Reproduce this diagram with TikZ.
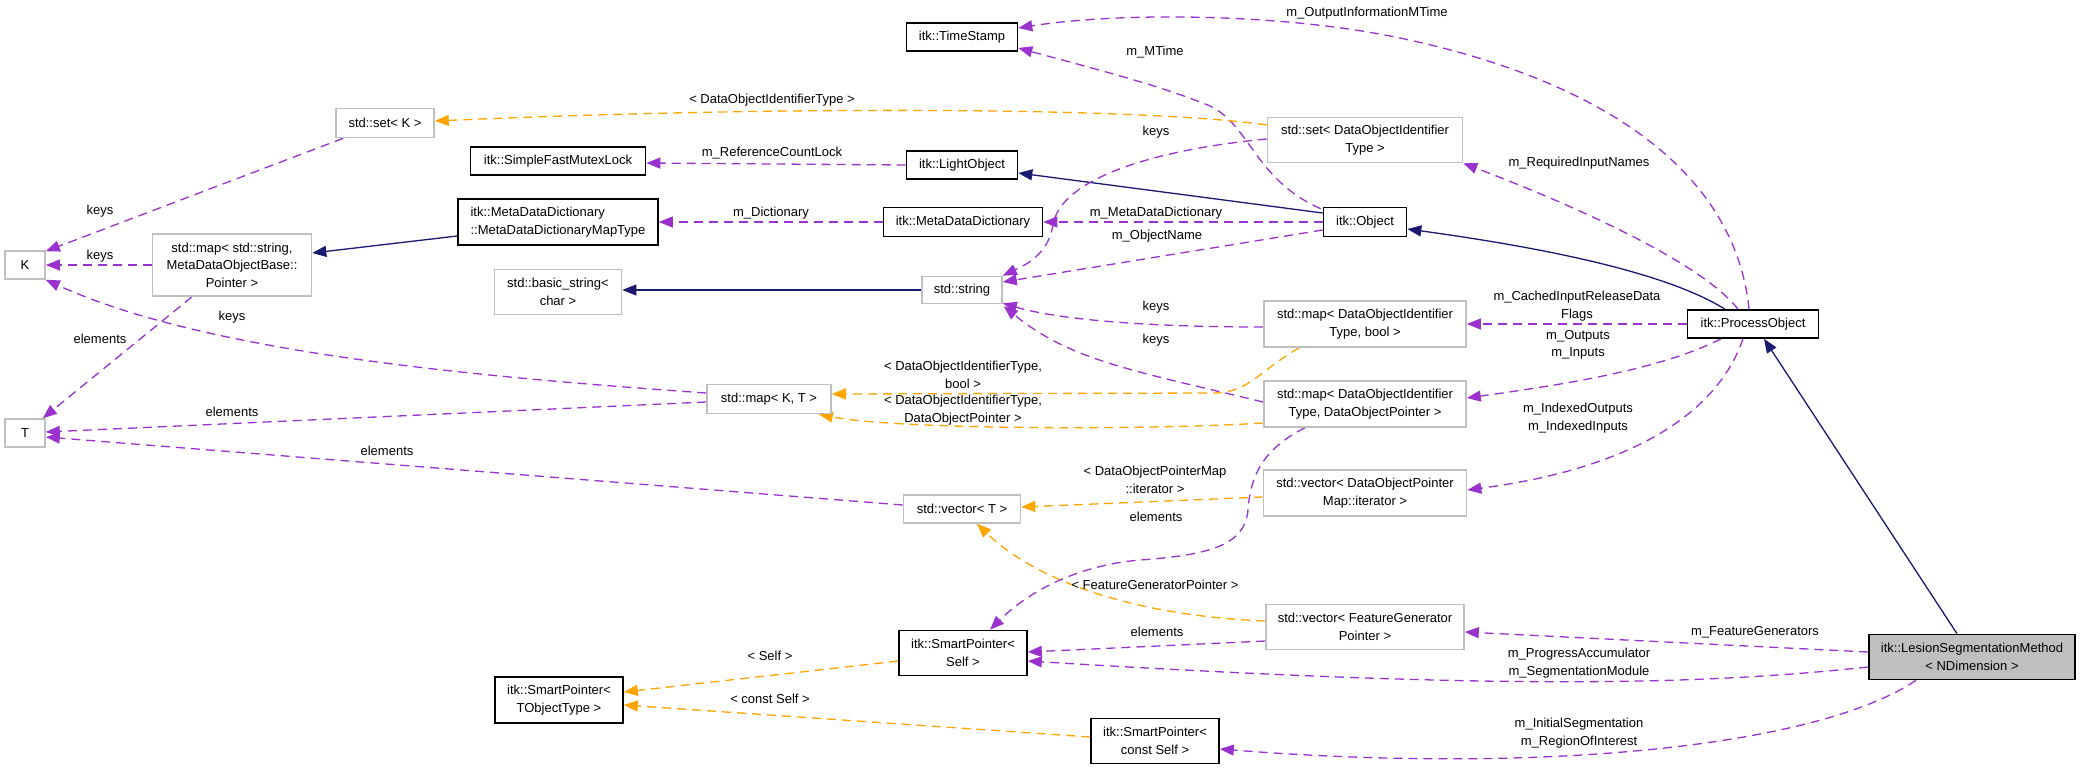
\documentclass[tikz,border=0pt]{standalone}
\usepackage{fontspec}
\setmainfont{Liberation Sans}
\usetikzlibrary{arrows.meta,calc,backgrounds}
\definecolor{purp}{HTML}{9A32CD}
\definecolor{orng}{HTML}{FFA500}
\definecolor{mblue}{HTML}{191970}
\definecolor{gbord}{HTML}{BFBFBF}
\definecolor{gfill}{HTML}{BFBFBF}
\begin{document}
\begin{tikzpicture}[x=1pt,y=-1pt,
  every node/.style={font=\fontsize{13}{17.5}\selectfont, inner sep=0pt, align=center},
  box/.style={draw=black, line width=1.6pt, fill=white, rectangle},
  gbox/.style={draw=gbord, line width=1.6pt, fill=white, rectangle},
  tip/.style={-{Triangle[length=14pt,width=11pt]}},
  mem/.style={draw=purp, line width=1.3pt, dash pattern=on 9pt off 6pt, tip},
  tpl/.style={draw=orng, line width=1.3pt, dash pattern=on 9pt off 6pt, tip},
  inh/.style={draw=mblue, line width=1.3pt, tip}
]
\useasboundingbox (0,0) rectangle (2080,769);
% nodes
\node[box, minimum width=111, minimum height=28] (TS) at (962,37) {itk::TimeStamp};
\node[gbox, minimum width=98, minimum height=29] (SK) at (385,123) {std::set< K >};
\node[gbox, minimum width=195, minimum height=45] (SD) at (1365,140) {std::set< DataObjectIdentifier\\Type >};
\node[box, minimum width=175, minimum height=28] (MX) at (558,161) {itk::SimpleFastMutexLock};
\node[box, minimum width=111, minimum height=28] (LO) at (962,165) {itk::LightObject};
\node[box, minimum width=200, minimum height=46, align=left] (MT) at (558,222) {itk::MetaDataDictionary\\::MetaDataDictionaryMapType};
\node[box, minimum width=159, minimum height=29] (MD) at (963,222) {itk::MetaDataDictionary};
\node[box, minimum width=83, minimum height=29] (OB) at (1365,222) {itk::Object};
\node[gbox, minimum width=40, minimum height=28] (K) at (25,265) {K};
\node[gbox, minimum width=159, minimum height=62] (MS) at (232,265) {std::map< std::string,\\MetaDataObjectBase::\\Pointer >};
\node[gbox, minimum width=127, minimum height=45] (BS) at (558,292) {std::basic\_string<\\char >};
\node[gbox, minimum width=80, minimum height=27] (ST) at (962,290) {std::string};
\node[gbox, minimum width=202, minimum height=46] (MB) at (1365,324) {std::map< DataObjectIdentifier\\Type, bool >};
\node[box, minimum width=131, minimum height=28] (PO) at (1753,324) {itk::ProcessObject};
\node[gbox, minimum width=40, minimum height=28] (T) at (25,433) {T};
\node[gbox, minimum width=124, minimum height=29] (KT) at (769,399) {std::map< K, T >};
\node[gbox, minimum width=202, minimum height=46] (MP) at (1365,404) {std::map< DataObjectIdentifier\\Type, DataObjectPointer >};
\node[gbox, minimum width=203, minimum height=46] (VI) at (1365,493) {std::vector< DataObjectPointer\\Map::iterator >};
\node[gbox, minimum width=117, minimum height=28] (VT) at (962,509) {std::vector< T >};
\node[box, minimum width=128, minimum height=45] (SS) at (963,653) {itk::SmartPointer<\\Self >};
\node[gbox, minimum width=198, minimum height=45] (VF) at (1365,627) {std::vector< FeatureGenerator\\Pointer >};
\node[box, fill=gfill, minimum width=206, minimum height=45] (LS) at (1972,657) {itk::LesionSegmentationMethod\\< NDimension >};
\node[box, minimum width=128, minimum height=46] (SO) at (559,700) {itk::SmartPointer<\\TObjectType >};
\node[box, minimum width=128, minimum height=45] (SC) at (1155,741) {itk::SmartPointer<\\const Self >};
% labels
\node (l1) at (1367,13) {m\_OutputInformationMTime};
\node (l2) at (1155,52) {m\_MTime};
\node (l3) at (772,100) {< DataObjectIdentifierType >};
\node (l4) at (772,153) {m\_ReferenceCountLock};
\node (l6) at (771,213) {m\_Dictionary};
\node (l7) at (1156,213) {m\_MetaDataDictionary};
\node (l9) at (1157,236) {m\_ObjectName};
\node (l10) at (1156,132) {keys};
\node (l11) at (1579,163) {m\_RequiredInputNames};
\node (l13) at (1156,307) {keys};
\node (l14) at (1577,306) {m\_CachedInputReleaseData\\Flags};
\node (l15) at (1156,340) {keys};
\node (l16) at (963,375) {< DataObjectIdentifierType,\\bool >};
\node (l17) at (963,410) {< DataObjectIdentifierType,\\DataObjectPointer >};
\node (l18) at (232,317) {keys};
\node (l19) at (232,412) {elements};
\node (l20) at (100,211) {keys};
\node (l21) at (100,256) {keys};
\node (l22) at (100,339) {elements};
\node (l23) at (387,451) {elements};
\node (l24) at (1155,480) {< DataObjectPointerMap\\::iterator >};
\node (l25) at (1155,585) {< FeatureGeneratorPointer >};
\node (l26) at (1156,517) {elements};
\node (l27) at (1157,632) {elements};
\node (l28) at (1579,663) {m\_ProgressAccumulator\\m\_SegmentationModule};
\node (l29) at (1755,632) {m\_FeatureGenerators};
\node (l30) at (1579,733) {m\_InitialSegmentation\\m\_RegionOfInterest};
\node (l32) at (1578,345) {m\_Outputs\\m\_Inputs};
\node (l33) at (1578,418) {m\_IndexedOutputs\\m\_IndexedInputs};
\node (l34) at (770,656) {< Self >};
\node (l35) at (770,699) {< const Self >};
% edges
\begin{pgfonlayer}{background}
\fill[white] (0,0) rectangle (2080,769);
\draw[mem] ($(PO.north)+(-4,0)$) .. controls (1735,170) and (1600,80) .. (1400,38) .. controls (1280,13) and (1120,12) .. ($(TS.east)+(0,-9)$);
\draw[mem] ($(OB.north west)+(-2,2)$) .. controls (1255,180) and (1250,125) .. (1210,106) .. controls (1160,85) and (1080,65) .. ($(TS.east)+(0,11)$);
\draw[tpl] ($(SD.west)+(0,-15)$) .. controls (1150,108) and (800,105) .. ($(SK.east)+(0,-2)$);
\draw[mem] (LO.west) -- ($(MX.east)+(0,2)$);
\draw[inh] ($(OB.west)+(0,-9)$) -- ($(LO.east)+(0,8)$);
\draw[mem] (MD.west) -- (MT.east);
\draw[mem] (OB.west) -- (MD.east);
\draw[inh] ($(MT.west)+(0,14)$) -- ($(MS.east)+(0,-12)$);
\draw[inh] (ST.west) -- ($(BS.east)+(0,-2)$);
\draw[mem] ($(OB.west)+(0,8)$) -- ($(ST.east)+(0,-8)$);
\draw[mem] ($(SD.west)+(0,-1)$) .. controls (1150,150) and (1060,180) .. (1053,225) .. controls (1048,255) and (1025,265) .. (ST.north east);
\draw[mem] ($(PO.north)+(-15,0)$) .. controls (1700,260) and (1560,200) .. (SD.south east);
\draw[inh] ($(PO.north)+(-28,0)$) .. controls (1670,275) and (1560,250) .. ($(OB.east)+(0,7)$);
\draw[mem] ($(MB.west)+(0,3)$) .. controls (1150,327) and (1060,320) .. ($(ST.south east)+(0,-1)$);
\draw[mem] (PO.west) -- (MB.east);
\draw[mem] ($(MP.west)+(0,-2)$) .. controls (1130,370) and (1070,360) .. ($(ST.south east)+(1,2)$);
\draw[tpl] ($(MB.south west)+(36,0)$) .. controls (1260,370) and (1250,392) .. (1215,393) -- ($(KT.east)+(0,-5)$);
\draw[tpl] ($(MP.west)+(0,19)$) .. controls (1150,430) and (900,430) .. ($(KT.south east)+(-13,0)$);
\draw[mem] ($(KT.west)+(0,-6)$) .. controls (450,375) and (200,350) .. (K.south east);
\draw[mem] ($(KT.west)+(0,3)$) -- ($(T.east)+(0,-1)$);
\draw[mem] ($(SK.south west)+(8,0)$) -- ($(K.north east)+(0,1)$);
\draw[mem] (MS.west) -- (K.east);
\draw[mem] ($(MS.south)+(-40,0)$) -- ($(T.north east)+(-3,0)$);
\draw[mem] ($(VT.west)+(0,-4)$) -- ($(T.east)+(0,4)$);
\draw[tpl] ($(VI.west)+(0,4)$) -- ($(VT.east)+(0,-2)$);
\draw[tpl] ($(VF.west)+(0,-6)$) .. controls (1120,615) and (1030,575) .. ($(VT.south)+(15,0)$);
\draw[mem] ($(MP.south)+(-60,0)$) .. controls (1260,450) and (1250,480) .. (1248,510) .. controls (1245,545) and (1210,555) .. (1140,560) .. controls (1080,565) and (1030,590) .. ($(SS.north)+(27,0)$);
\draw[mem] ($(VF.west)+(0,14)$) -- ($(SS.east)+(0,-1)$);
\draw[mem] ($(LS.west)+(0,10)$) .. controls (1700,685) and (1500,690) .. ($(SS.east)+(0,8)$);
\draw[mem] ($(LS.west)+(0,-5)$) -- ($(VF.east)+(0,5)$);
\draw[mem] ($(LS.south)+(-56,0)$) .. controls (1820,745) and (1550,775) .. ($(SC.east)+(0,8)$);
\draw[inh] ($(LS.north)+(-15,0)$) -- ($(PO.south)+(11,0)$);
\draw[mem] ($(PO.south)+(-32,0)$) .. controls (1660,370) and (1560,385) .. ($(MP.east)+(0,-6)$);
\draw[mem] ($(PO.south)+(-10,0)$) .. controls (1715,420) and (1620,470) .. ($(VI.east)+(0,-3)$);
\draw[tpl] ($(SS.west)+(0,8)$) -- ($(SO.east)+(0,-8)$);
\draw[tpl] ($(SC.west)+(0,-4)$) -- ($(SO.east)+(0,5)$);
\end{pgfonlayer}
\end{tikzpicture}
\end{document}
